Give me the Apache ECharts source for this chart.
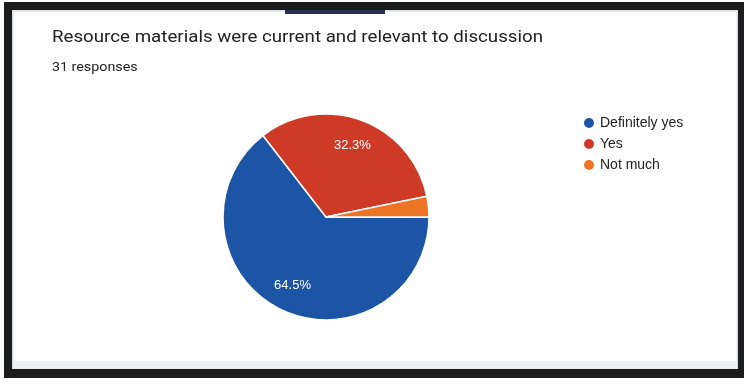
<!DOCTYPE html>
<html>
<head>
<meta charset="utf-8">
<script src="https://cdn.jsdelivr.net/npm/echarts@6/dist/echarts.min.js"></script>
<style>
html,body{margin:0;padding:0;background:#fff;}
#chart{width:748px;height:383px;}
</style>
</head>
<body>
<div id="chart"></div>
<script>
const categories = ['Definitely yes', 'Yes', 'Not much'];
const counts = [20, 10, 1];
const colors = ['#1d55a6', '#cf3a26', '#ec7424'];
const titleText = 'Resource materials were current and relevant to discussion';
const subtitleText = '31 responses';

const chart = echarts.init(document.getElementById('chart'));
const pieData = categories.map((c, i) => ({ name: c, value: counts[i], itemStyle: { color: colors[i] } }));
const labelData = categories.map((c, i) => ({ name: c, value: counts[i] }));

chart.setOption({
  animation: false,
  backgroundColor: '#ffffff',
  graphic: [
    { type: 'rect', shape: { x: 12, y: 10, width: 726, height: 360 }, style: { fill: '#ffffff', stroke: '#d9dde6', lineWidth: 3 } },
    { type: 'rect', shape: { x: 14, y: 361, width: 722, height: 8 }, style: { fill: '#eef0f6' } },
    { type: 'rect', shape: { x: 4, y: 2, width: 740, height: 8 }, style: { fill: '#1c1c1c' } },
    { type: 'rect', shape: { x: 4, y: 2, width: 8, height: 376 }, style: { fill: '#1c1c1c' } },
    { type: 'rect', shape: { x: 738, y: 2, width: 6, height: 376 }, style: { fill: '#1c1c1c' } },
    { type: 'rect', shape: { x: 4, y: 369, width: 740, height: 9 }, style: { fill: '#1c1c1c' } },
    { type: 'rect', shape: { x: 285, y: 10, width: 100, height: 4 }, style: { fill: '#2a3050' } },
    { type: 'text', x: 52, y: 30, scaleX: 1.17, style: { text: titleText, fontFamily: 'Roboto', fontSize: 16, fill: '#202124', verticalAlign: 'top' } },
    { type: 'text', x: 52, y: 62, scaleX: 1.19, style: { text: subtitleText, fontFamily: 'Roboto', fontSize: 12, fill: '#202124', verticalAlign: 'top' } }
  ],
  legend: {
    orient: 'vertical',
    left: 582,
    top: 116,
    padding: 0,
    icon: 'circle',
    itemWidth: 12,
    itemHeight: 12,
    itemGap: 7,
    textStyle: { fontFamily: 'Liberation Sans, Arial', fontSize: 14, color: '#222' },
    data: categories
  },
  series: [
    {
      type: 'pie',
      center: [326, 217],
      radius: [0, 103],
      startAngle: 0,
      clockwise: true,
      percentPrecision: 1,
      label: { show: false },
      labelLine: { show: false },
      itemStyle: { borderColor: '#ffffff', borderWidth: 1.5 },
      data: pieData,
      silent: true
    },
    {
      type: 'pie',
      center: [326, 217],
      radius: [0, 146],
      startAngle: 0,
      clockwise: true,
      percentPrecision: 1,
      silent: true,
      itemStyle: { color: 'rgba(0,0,0,0)' },
      label: {
        show: true,
        position: 'inside',
        formatter: p => p.percent >= 5 ? p.percent + '%' : '',
        color: '#ffffff',
        fontFamily: 'Liberation Sans, Arial',
        fontSize: 13
      },
      labelLine: { show: false },
      legendHoverLink: false,
      data: labelData
    }
  ]
});
</script>
</body>
</html>
